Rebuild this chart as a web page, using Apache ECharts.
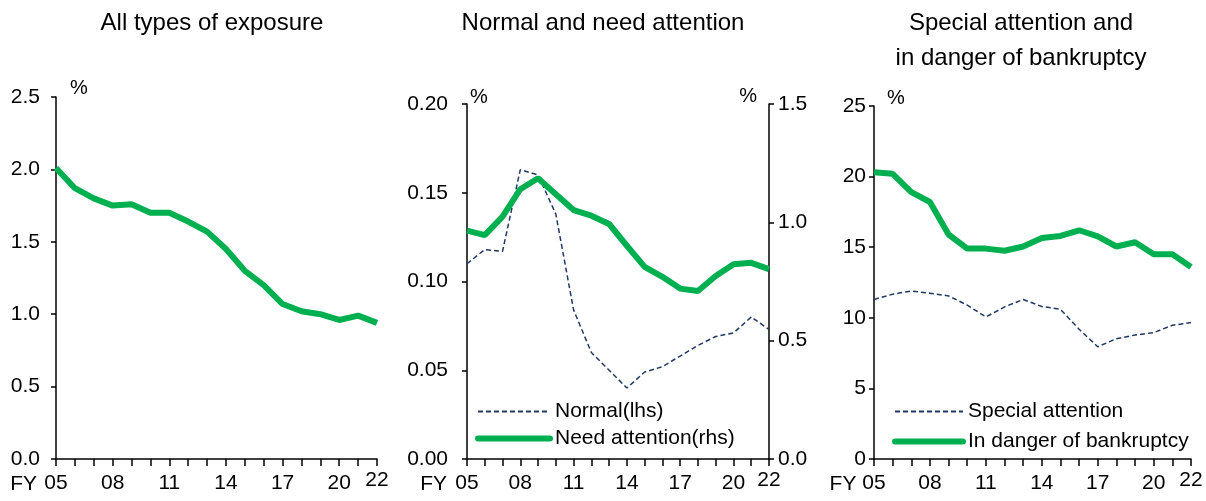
<!DOCTYPE html>
<html>
<head>
<meta charset="utf-8">
<script src="https://cdn.jsdelivr.net/npm/echarts@6/dist/echarts.min.js"></script>
<style>
  html, body { margin: 0; padding: 0; background: #fff; }
  #chart { width: 1206px; height: 501px; }
</style>
</head>
<body>
<div id="chart"></div>
<script>
// fiscal years, FY05 .. FY22
const years = ['05', '06', '07', '08', '09', '10', '11', '12', '13', '14', '15', '16', '17', '18', '19', '20', '21', '22']
const labelYears = ['05', '08', '11', '14', '17', '20', '22']

// panel 1: all types of exposure (%)
const allTypes = [2.01, 1.87, 1.80, 1.75, 1.76, 1.70, 1.70, 1.64, 1.57, 1.45, 1.30, 1.20, 1.07, 1.02, 1.00, 0.96, 0.99, 0.94]

// panel 2: normal (lhs) and need attention (rhs)
const normal = [0.110, 0.118, 0.117, 0.163, 0.160, 0.138, 0.084, 0.060, 0.050, 0.040, 0.049, 0.052, 0.058, 0.064, 0.069, 0.071, 0.080, 0.073]
const needAttention = [0.965, 0.946, 1.024, 1.14, 1.186, 1.119, 1.052, 1.028, 0.993, 0.901, 0.812, 0.770, 0.720, 0.710, 0.773, 0.823, 0.829, 0.802]

// panel 3: special attention and in danger of bankruptcy
const specialAttention = [11.3, 11.67, 11.9, 11.74, 11.55, 10.9, 10.06, 10.77, 11.3, 10.8, 10.6, 9.19, 7.95, 8.52, 8.78, 8.95, 9.47, 9.66]
const inDanger = [20.3, 20.2, 18.9, 18.2, 15.9, 14.9, 14.9, 14.75, 15.05, 15.65, 15.8, 16.2, 15.77, 15.05, 15.35, 14.5, 14.5, 13.6]

const GREEN = '#00b050'
const NAVY = '#1f3864'
const DASH = [5, 3]
const FONT = 'Liberation Sans, Arial, sans-serif'
const axisLine = { show: true, lineStyle: { color: '#000', width: 1.5 } }

function xAxis(gridIndex, fyGap) {
  return {
    type: 'category',
    gridIndex,
    data: years,
    boundaryGap: false,
    name: 'FY',
    nameLocation: 'start',
    nameGap: fyGap,
    nameTextStyle: { fontSize: 21, color: '#000', fontFamily: FONT, verticalAlign: 'top', padding: [15, 0, 0, 0] },
    axisLine,
    axisTick: { show: true, interval: 0, length: 7, lineStyle: { color: '#000', width: 1.5 } },
    axisLabel: {
      interval: (i, v) => labelYears.includes(v),
      margin: 14,
      fontSize: 21,
      color: '#000',
      fontFamily: FONT,
      formatter: v => (v === '22' ? '{up|22}' : v),
      rich: { up: { fontSize: 21, color: '#000', fontFamily: FONT, lineHeight: 14 } },
    },
    splitLine: { show: false },
  }
}

function yAxis(gridIndex, max, interval, decimals, position, margin, namePad) {
  return {
    type: 'value',
    gridIndex,
    position,
    min: 0,
    max,
    interval,
    name: '%',
    nameLocation: 'end',
    nameGap: namePad.gap,
    nameTextStyle: {
      fontSize: 20, color: '#000', fontFamily: FONT,
      align: namePad.align, verticalAlign: 'bottom', padding: namePad.padding,
    },
    axisLine,
    axisTick: { show: true, length: 5, lineStyle: { color: '#000', width: 1.5 } },
    axisLabel: {
      margin,
      fontSize: 21,
      color: '#000',
      fontFamily: FONT,
      formatter: v => v.toFixed(decimals),
    },
    splitLine: { show: false },
  }
}

function lineSeries(name, data, xi, yi, dashed) {
  return {
    name,
    type: 'line',
    xAxisIndex: xi,
    yAxisIndex: yi,
    data,
    symbol: 'none',
    clip: false,
    lineStyle: dashed
      ? { color: NAVY, width: 1.5, type: DASH }
      : { color: GREEN, width: 6 },
    itemStyle: { color: dashed ? NAVY : GREEN },
  }
}

// legend entries draw only the line sample, no symbol
function legendItem(name, dashed) {
  return {
    name,
    itemStyle: { opacity: 0 },
    lineStyle: dashed ? { color: NAVY, width: 2, type: DASH } : { color: GREEN, width: 6, cap: 'round' },
  }
}

const titleStyle = { fontSize: 24, fontWeight: 'normal', color: '#000', fontFamily: FONT, lineHeight: 35 }
const legendText = { fontSize: 21, color: '#000', fontFamily: FONT }

const chart = echarts.init(document.getElementById('chart'))
chart.setOption({
  animation: false,
  backgroundColor: '#fff',
  title: [
    { text: 'All types of exposure', left: 207, top: 1, textAlign: 'center', textStyle: titleStyle },
    { text: 'Normal and need attention', left: 598, top: 1, textAlign: 'center', textStyle: titleStyle },
    { text: 'Special attention and\nin danger of bankruptcy', left: 1016, top: 1, textAlign: 'center', textStyle: titleStyle },
  ],
  legend: [
    {
      data: [legendItem('Normal(lhs)', true), legendItem('Need attention(rhs)', false)],
      left: 470, top: 396, orient: 'vertical',
      itemWidth: 72, itemHeight: 20, itemGap: 6,
      textStyle: legendText,
    },
    {
      data: [legendItem('Special attention', true), legendItem('In danger of bankruptcy', false)],
      left: 887, top: 396, orient: 'vertical',
      itemWidth: 68, itemHeight: 20, itemGap: 9,
      textStyle: legendText,
    },
  ],
  grid: [
    { left: 56, top: 97, width: 321, height: 362 },
    { left: 467, top: 104, width: 302, height: 355 },
    { left: 874, top: 106, width: 317, height: 353 },
  ],
  xAxis: [xAxis(0, 19), xAxis(1, 20), xAxis(2, 17)],
  yAxis: [
    yAxis(0, 2.5, 0.5, 1, 'left', 16, { gap: -1, align: 'left', padding: [0, 0, 0, 14] }),
    yAxis(1, 0.2, 0.05, 2, 'left', 19, { gap: -3, align: 'left', padding: [0, 0, 0, 3] }),
    yAxis(1, 1.5, 0.5, 1, 'right', 9, { gap: -2, align: 'right', padding: [0, 12, 0, 0] }),
    yAxis(2, 25, 5, 0, 'left', 8, { gap: -2, align: 'left', padding: [0, 0, 0, 13] }),
  ],
  series: [
    lineSeries('All types', allTypes, 0, 0, false),
    lineSeries('Normal(lhs)', normal, 1, 1, true),
    lineSeries('Need attention(rhs)', needAttention, 1, 2, false),
    lineSeries('Special attention', specialAttention, 2, 3, true),
    lineSeries('In danger of bankruptcy', inDanger, 2, 3, false),
  ],
})

window.addEventListener('resize', () => chart.resize())
</script>
</body>
</html>
